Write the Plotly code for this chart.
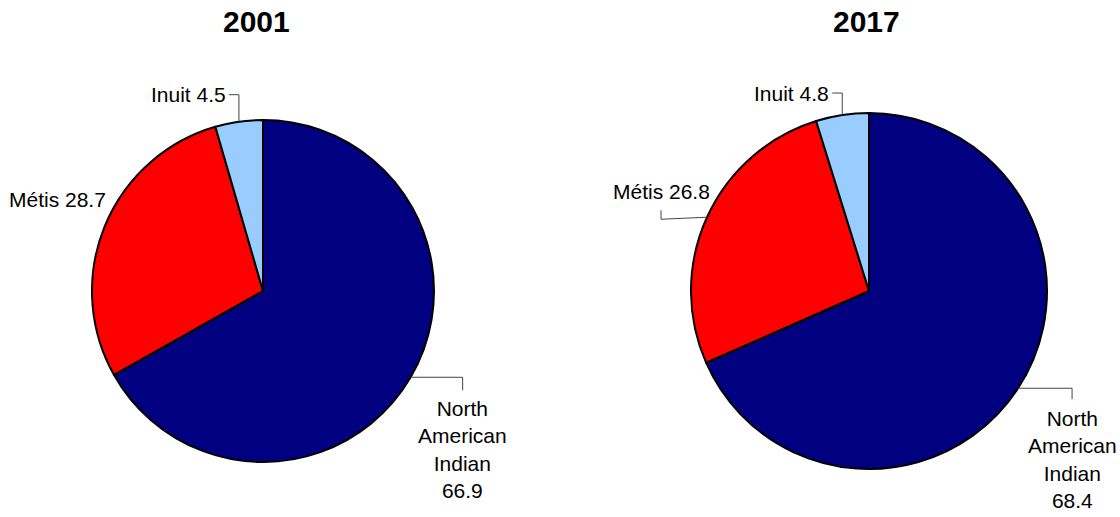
import math
import plotly.graph_objects as go

# ---- data -------------------------------------------------------------
years = ["2001", "2017"]
groups = ["North American Indian", "Métis", "Inuit"]
shares_2001 = [66.9, 28.7, 4.5]
shares_2017 = [68.4, 26.8, 4.8]
shares = {"2001": shares_2001, "2017": shares_2017}

# ---- styling ----------------------------------------------------------
W, H = 1120, 517
colors = ["#000080", "#FF0000", "#99CCFF"]
FONT = "Helvetica, Arial, Liberation Sans, sans-serif"
LABEL_SIZE = 21
TITLE_SIZE = 30
LEADER_COLOR = "#444444"

# pie geometry in pixels: centre x, centre y (from top), radius
pie_geom = {
    "2001": dict(cx=263, cy=291, r=171, title_x=256),
    "2017": dict(cx=869, cy=291, r=178, title_x=866),
}

# leader routes (pixel offsets, starting at the slice's mid-edge point)
# and how the label is anchored at the end of the route
label_style = {
    "2001": [
        dict(path=[(52, 0), (0, 13)], anchor=("center", "top"), gap=(0, 5)),
        dict(path=[], anchor=("right", "middle"), gap=(3, -27)),
        dict(path=[(0, -27), (-10, 0)], anchor=("right", "middle"), gap=(-1, 0)),
    ],
    "2017": [
        dict(path=[(54, 0), (0, 11)], anchor=("center", "top"), gap=(0, 6)),
        dict(path=[(-46, 2), (0, -9)], anchor=("center", "bottom"), gap=(0, -5)),
        dict(path=[(0, -22), (-10, 0)], anchor=("right", "middle"), gap=(-1, 0)),
    ],
}


def px_x(x):
    return x / W


def px_y(y):
    return 1 - y / H


def label_text(name, value):
    if name == "North American Indian":
        return "<br>".join(name.split(" ")) + f"<br>{value}"
    return f"{name} {value}"


fig = go.Figure()
shapes = []
annotations = []

for year in years:
    g = pie_geom[year]
    vals = shares[year]
    cx, cy, r = g["cx"], g["cy"], g["r"]

    fig.add_trace(go.Pie(
        labels=groups,
        values=vals,
        sort=False,
        direction="clockwise",
        rotation=0,
        textinfo="none",
        hoverinfo="label+value",
        marker=dict(colors=colors, line=dict(color="black", width=2)),
        domain=dict(x=[px_x(cx - r), px_x(cx + r)],
                    y=[px_y(cy + r), px_y(cy - r)]),
        showlegend=False,
    ))

    annotations.append(dict(
        text=f"<b>{year}</b>", x=px_x(g["title_x"]), y=px_y(22),
        xref="paper", yref="paper", xanchor="center", yanchor="middle",
        showarrow=False, font=dict(family=FONT, size=TITLE_SIZE, color="black"),
    ))

    total = sum(vals)
    cum = 0.0
    for name, v, st in zip(groups, vals, label_style[year]):
        mid = (cum + v / 2) / total * 2 * math.pi
        cum += v
        x0 = cx + r * math.sin(mid)
        y0 = cy - r * math.cos(mid)
        pts = [(x0, y0)]
        for dx, dy in st["path"]:
            px_, py_ = pts[-1]
            pts.append((px_ + dx, py_ + dy))
        if len(pts) > 1:
            path = "M " + " L ".join(f"{px_x(a):.5f},{px_y(b):.5f}" for a, b in pts)
            shapes.append(dict(type="path", path=path, xref="paper", yref="paper",
                               line=dict(color=LEADER_COLOR, width=1)))
        ex, ey = pts[-1]
        ex += st["gap"][0]
        ey += st["gap"][1]
        annotations.append(dict(
            text=label_text(name, v), x=px_x(ex), y=px_y(ey),
            xref="paper", yref="paper",
            xanchor=st["anchor"][0], yanchor=st["anchor"][1],
            align="center", showarrow=False,
            font=dict(family=FONT, size=LABEL_SIZE, color="black"),
        ))

fig.update_layout(
    width=W, height=H,
    margin=dict(l=0, r=0, t=0, b=0),
    paper_bgcolor="white", plot_bgcolor="white",
    shapes=shapes, annotations=annotations,
)

fig.write_html("out.html")
